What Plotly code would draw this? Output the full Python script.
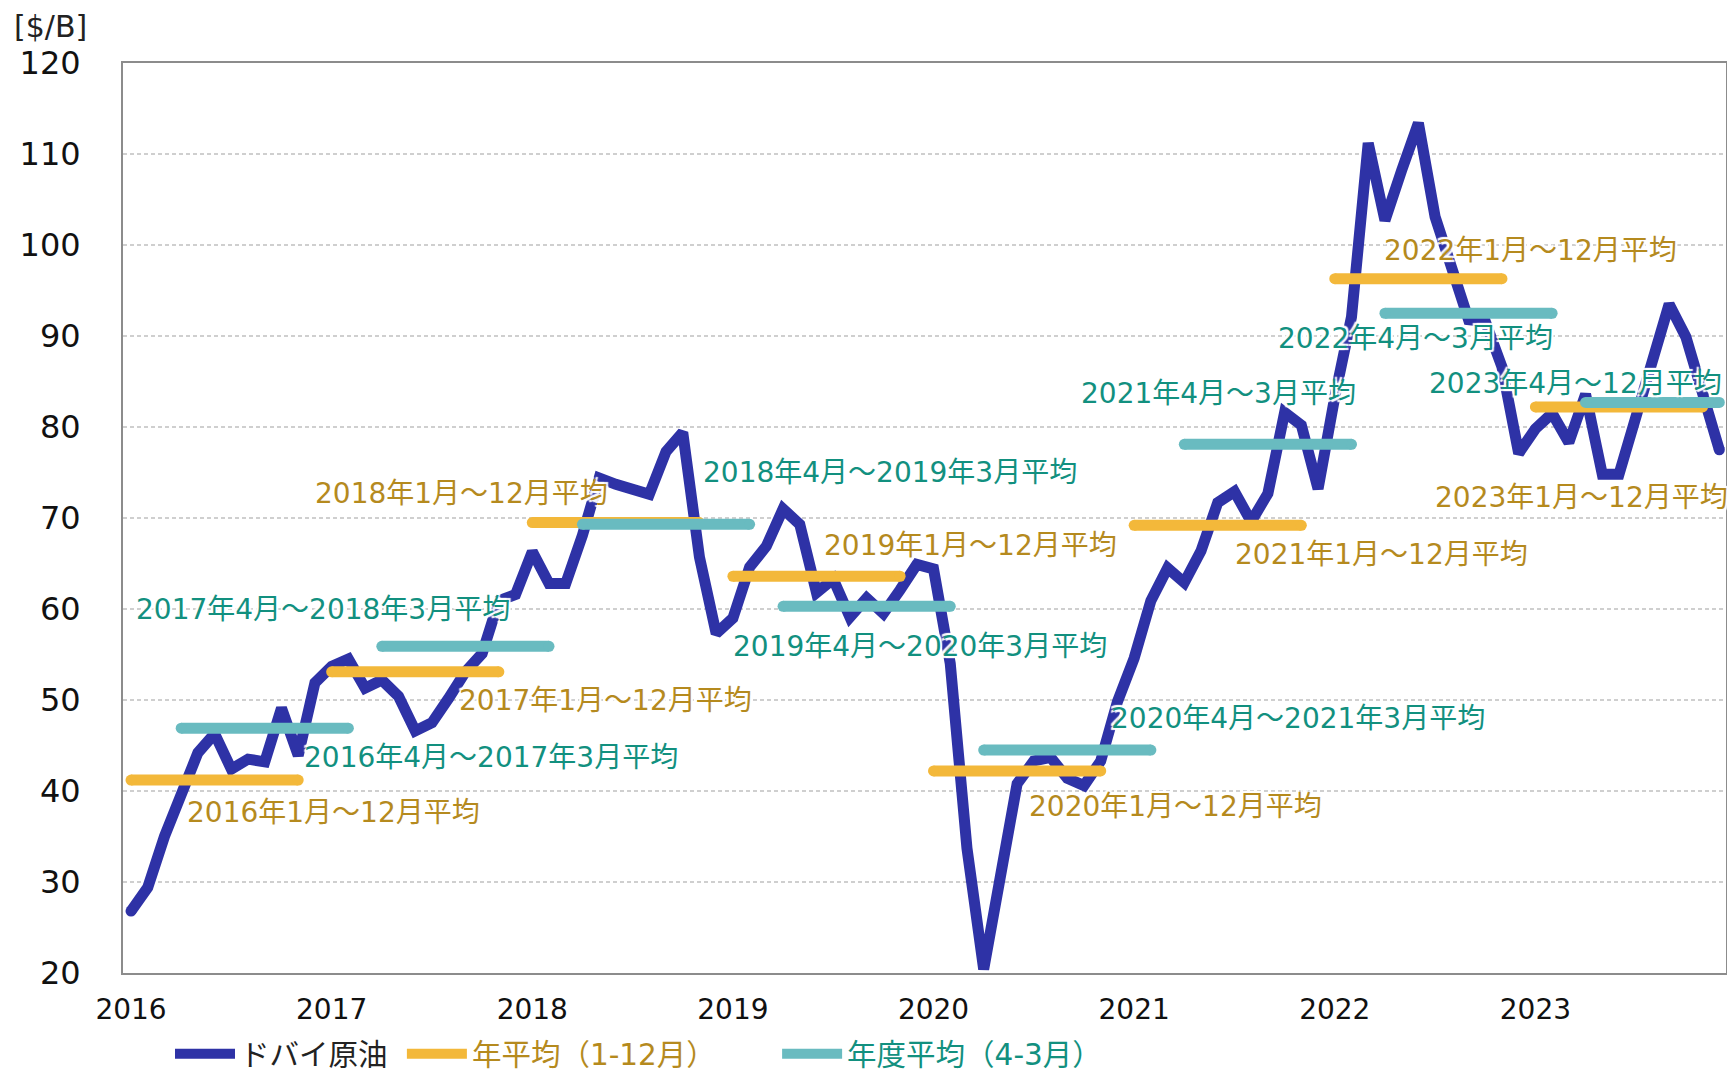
import plotly.graph_objects as go

# ---------------- data ----------------
years = [2016, 2017, 2018, 2019, 2020, 2021, 2022, 2023]
year_labels = [str(y) for y in years]

dubai = [
    26.8, 29.4, 35.0, 39.6, 44.2, 46.3, 42.4, 43.5, 43.2, 49.1, 43.9, 51.9,   # 2016
    53.7, 54.5, 51.3, 52.2, 50.4, 46.6, 47.5, 50.2, 53.1, 55.1, 60.9, 61.6,   # 2017
    66.3, 62.8, 62.8, 68.1, 74.4, 73.7, 73.1, 72.6, 77.3, 79.4, 65.7, 57.3,   # 2018
    59.0, 64.6, 66.9, 71.0, 69.3, 61.8, 63.3, 59.1, 61.2, 59.5, 62.1, 64.9,   # 2019
    64.4, 54.0, 33.7, 20.4, 30.6, 40.8, 43.3, 43.7, 41.4, 40.6, 43.3, 49.8,   # 2020
    54.6, 60.9, 64.5, 62.9, 66.4, 71.7, 72.9, 69.6, 72.7, 81.6, 80.2, 73.2,   # 2021
    83.3, 92.1, 111.2, 102.7, 108.2, 113.4, 103.1, 97.0, 91.8, 91.6, 86.6, 77.1,  # 2022
    79.8, 81.5, 78.3, 83.6, 74.8, 74.8, 80.8, 87.0, 93.5, 89.9, 84.0, 77.5,   # 2023
]

# calendar-year averages (Jan-Dec)
annual_avg = [41.2, 53.1, 69.5, 63.6, 42.2, 69.2, 96.3, 82.2]
annual_avg_labels = [f"{y}年1月～12月平均" for y in years]

# fiscal-year averages (Apr-Mar)
fiscal_avg = [46.9, 55.9, 69.3, 60.3, 44.5, 78.1, 92.5, 82.7]
fiscal_avg_labels = [
    "2016年4月～2017年3月平均", "2017年4月～2018年3月平均",
    "2018年4月～2019年3月平均", "2019年4月～2020年3月平均",
    "2020年4月～2021年3月平均", "2021年4月～3月平均",
    "2022年4月～3月平均", "2023年4月～12月平均",
]

series_names = ["ドバイ原油", "年平均（1-12月）", "年度平均（4-3月）"]

# label anchor positions (month index from Jan 2016, value)
annual_label_x = [3.2, 19.5, 10.9, 41.3, 53.6, 65.9, 74.8, 77.9]
annual_label_y = [37.6, 49.9, 72.7, 67.0, 38.3, 66.0, 99.4, 72.2]
fiscal_label_x = [10.2, 0.2, 34.1, 35.9, 58.5, 56.7, 68.5, 77.5]
fiscal_label_y = [43.7, 59.9, 75.0, 55.9, 48.0, 83.7, 89.7, 84.8]

# ---------------- styles ----------------
BLUE = "#2E32A6"
YELLOW = "#F3B83A"
TEAL = "#69BBC0"
GOLD_TXT = "#B58A1E"
TEAL_TXT = "#12907F"
FONT = "DejaVu Sans, Verdana, Noto Sans CJK JP, sans-serif"
LW = 11

months = list(range(len(dubai)))
n = len(dubai)

def segments(starts, ends, vals):
    xs, ys = [], []
    for s, e, v in zip(starts, ends, vals):
        xs += [s, e, None]
        ys += [v, v, None]
    return xs, ys

ann_start = [12 * i for i in range(len(years))]
ann_end = [s + 10 for s in ann_start]
fy_start = [12 * i + 3 for i in range(len(years))]
fy_end = [min(s + 10, n - 1) for s in fy_start]

NB = "\u00a0"
fig = go.Figure()

fig.add_trace(go.Scatter(
    x=months, y=dubai, mode="lines", name=series_names[0] + NB,
    line=dict(color=BLUE, width=LW), showlegend=True,
))
fig.add_trace(go.Scatter(
    x=[months[0], months[-1]], y=[dubai[0], dubai[-1]], mode="markers",
    marker=dict(color=BLUE, size=LW), showlegend=False, hoverinfo="skip",
))

ax, ay = segments(ann_start, ann_end, annual_avg)
fig.add_trace(go.Scatter(
    x=ax, y=ay, mode="lines",
    name=f'<span style="color:{GOLD_TXT}">{series_names[1]}</span>' + NB * 6,
    line=dict(color=YELLOW, width=LW),
))
fig.add_trace(go.Scatter(
    x=[v for v in ax if v is not None], y=[v for v in ay if v is not None],
    mode="markers", marker=dict(color=YELLOW, size=LW), showlegend=False, hoverinfo="skip",
))

fx, fyv = segments(fy_start, fy_end, fiscal_avg)
fig.add_trace(go.Scatter(
    x=fx, y=fyv, mode="lines",
    name=f'<span style="color:{TEAL_TXT}">{series_names[2]}</span>',
    line=dict(color=TEAL, width=LW),
))
fig.add_trace(go.Scatter(
    x=[v for v in fx if v is not None], y=[v for v in fyv if v is not None],
    mode="markers", marker=dict(color=TEAL, size=LW), showlegend=False, hoverinfo="skip",
))

halo = "2px 2px 1px white, -2px -2px 1px white, 2px -2px 1px white, -2px 2px 1px white"
for t, x, y in zip(annual_avg_labels, annual_label_x, annual_label_y):
    fig.add_annotation(x=x, y=y, text=t, showarrow=False, xanchor="left", yanchor="middle",
                       font=dict(family=FONT, size=28, color=GOLD_TXT, shadow=halo))
for t, x, y in zip(fiscal_avg_labels, fiscal_label_x, fiscal_label_y):
    fig.add_annotation(x=x, y=y, text=t, showarrow=False, xanchor="left", yanchor="middle",
                       font=dict(family=FONT, size=28, color=TEAL_TXT, shadow=halo))

fig.add_annotation(xref="paper", yref="paper", x=(12 - 123) / 1603, y=1 + (63 - 27) / 910,
                   text="[$/B]", showarrow=False, xanchor="left", yanchor="middle",
                   font=dict(family=FONT, size=30, color="#222"))

fig.update_layout(
    width=1727, height=1076,
    margin=dict(l=123, r=1, t=63, b=103, autoexpand=False),
    paper_bgcolor="white", plot_bgcolor="white",
    font=dict(family=FONT, color="#111"),
    showlegend=True,
    legend=dict(orientation="h", x=(170 - 123) / 1603, y=-(1054 - 973) / 910,
                xanchor="left", yanchor="middle", itemwidth=60,
                font=dict(family=FONT, size=29.5, color="#222"),
                bgcolor="rgba(0,0,0,0)"),
    xaxis=dict(
        range=[-0.48, 95.4], tickmode="array",
        tickvals=ann_start, ticktext=year_labels,
        showgrid=False, zeroline=False,
        showline=True, linecolor="#8C8C8C", linewidth=2, mirror=True,
        ticks="", tickfont=dict(family=FONT, size=28, color="#111"),
        ticklabelstandoff=10,
    ),
    yaxis=dict(
        range=[20, 120], dtick=10, tick0=20,
        showgrid=True, gridcolor="#CFCFCF", gridwidth=1.5, griddash="4px,3px",
        zeroline=False,
        showline=True, linecolor="#8C8C8C", linewidth=2, mirror=True,
        ticks="", tickfont=dict(family=FONT, size=32, color="#111"),
        ticklabelstandoff=34,
    ),
)

fig.write_html("out.html", config={"displayModeBar": False},
               post_script="document.body.style.margin='0';document.body.style.overflow='hidden';")
